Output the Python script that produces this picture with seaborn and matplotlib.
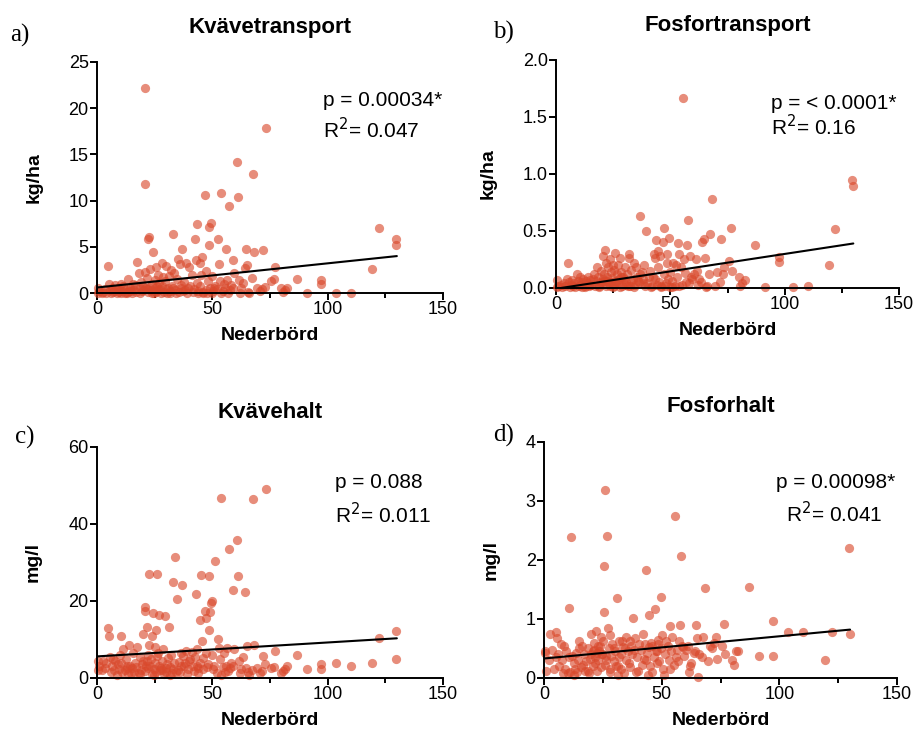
import pandas as pd
import seaborn as sns
import matplotlib.pyplot as plt

# Nederbörd (gemensam x för alla fyra paneler)
nederbord = [
    129.6, 129.8, 122.2, 119.2, 110.0, 103.8, 97.3, 97.3, 91.2, 86.9,
    82.5, 81.5, 80.5, 79.8, 77.0, 76.6, 75.5, 73.3, 73.0, 72.0,
    71.5, 70.5, 69.5, 68.2, 67.5, 67.0, 66.0, 65.6, 65.0, 64.7,
    64.0, 63.5, 62.5, 61.5, 61.0, 60.5, 59.5, 58.8, 58.0, 57.8,
    57.2, 56.5, 56.0, 55.6, 55.0, 54.5, 53.9, 53.3, 53.0, 52.5,
    52.0, 51.2, 50.5, 50.0, 49.7, 49.5, 49.0, 48.6, 48.4, 48.0,
    47.4, 47.2, 46.7, 46.0, 45.5, 45.1, 44.7, 44.5, 43.9, 43.5,
    43.3, 42.8, 42.6, 42.0, 41.0, 40.0, 39.3, 38.5, 37.9, 37.5,
    36.8, 36.6, 36.0, 35.5, 35.0, 34.7, 34.0, 33.5, 32.8, 32.5,
    32.0, 31.7, 31.2, 30.8, 30.0, 29.5, 29.0, 28.5, 28.0, 27.5,
    27.0, 26.9, 26.5, 26.0, 25.7, 25.5, 25.3, 25.0, 24.5, 24.2,
    24.0, 23.5, 23.0, 22.7, 22.5, 22.3, 22.0, 21.7, 21.5, 21.0,
    20.7, 20.7, 20.0, 19.5, 19.0, 18.5, 18.0, 17.3, 17.0, 16.5,
    16.0, 15.5, 15.0, 14.5, 14.0, 13.5, 13.0, 12.5, 12.0, 11.3,
    11.0, 10.6, 10.4, 10.0, 9.5, 9.0, 8.5, 8.0, 7.5, 7.0,
    6.5, 6.0, 5.5, 5.1, 4.9, 4.0, 3.5, 2.4, 2.0, 1.0,
    0.5, 0.3, 45.8, 44.0, 41.5, 40.5, 39.0, 38.0, 34.3, 33.0,
    30.5, 29.8, 27.8, 26.2, 23.8, 19.8, 18.8, 14.8, 12.8, 50.8,
    53.6, 57.0, 59.0, 62.0, 47.8, 36.3, 31.5, 28.2, 24.8, 21.2,
]

kvavetransport = [
    5.8, 5.2, 7.0, 2.6, 0.05, 0.05, 1.4, 1.0, 0.05, 1.5,
    0.6, 0.3, 0.1, 0.5, 2.8, 1.5, 1.3, 17.9, 0.7, 4.7,
    0.4, 0.2, 0.6, 4.4, 12.9, 1.6, 0.05, 0.1, 3.0, 4.8,
    2.7, 1.1, 0.5, 1.4, 10.4, 14.2, 2.2, 3.6, 0.9, 0.3,
    9.4, 1.4, 4.8, 0.6, 1.0, 0.2, 10.8, 1.3, 3.1, 5.8,
    0.4, 0.8, 0.2, 1.8, 0.05, 7.6, 0.6, 5.2, 7.1, 1.3,
    0.3, 2.4, 10.6, 0.1, 3.9, 2.0, 0.8, 3.3, 0.2, 7.5,
    1.1, 3.6, 5.8, 0.4, 1.9, 2.8, 0.5, 3.2, 1.2, 0.2,
    4.8, 0.9, 3.1, 0.1, 3.7, 1.5, 0.3, 2.2, 6.4, 0.8,
    2.5, 0.2, 1.8, 0.6, 2.9, 1.3, 0.1, 1.7, 3.3, 0.4,
    1.1, 0.3, 2.0, 0.8, 0.1, 2.8, 0.5, 1.4, 0.2, 4.4,
    1.0, 0.3, 2.6, 0.7, 6.1, 5.9, 0.1, 1.6, 0.4, 2.3,
    22.2, 11.8, 0.8, 0.2, 1.2, 0.5, 2.2, 3.4, 0.1, 0.9,
    0.3, 1.0, 0.05, 0.6, 0.2, 1.5, 0.1, 0.4, 0.05, 0.8,
    0.2, 0.05, 1.0, 0.3, 0.1, 0.6, 0.05, 0.9, 0.2, 0.1,
    0.5, 0.05, 0.3, 1.0, 2.9, 0.05, 0.4, 0.1, 0.05, 0.2,
    0.5, 0.05, 0.05, 0.05, 0.1, 0.8, 0.05, 0.3, 0.05, 0.5,
    0.05, 0.4, 0.05, 0.3, 0.05, 0.3, 0.05, 0.2, 0.05, 0.5,
    0.05, 0.05, 0.6, 0.05, 0.05, 0.6, 0.05, 0.8, 0.05, 0.5,
]

fosfortransport = [
    0.95, 0.89, 0.52, 0.20, 0.02, 0.01, 0.27, 0.23, 0.01, 0.38,
    0.07, 0.04, 0.02, 0.10, 0.15, 0.53, 0.24, 0.18, 0.12, 0.43,
    0.05, 0.14, 0.02, 0.78, 0.47, 0.12, 0.02, 0.01, 0.26, 0.43,
    0.40, 0.05, 0.08, 0.15, 0.25, 0.12, 0.08, 0.28, 0.04, 0.60,
    0.38, 0.13, 0.25, 1.67, 0.03, 0.18, 0.30, 0.39, 0.10, 0.20,
    0.02, 0.22, 0.06, 0.14, 0.01, 0.44, 0.08, 0.30, 0.22, 0.04,
    0.53, 0.12, 0.40, 0.02, 0.28, 0.05, 0.32, 0.18, 0.42, 0.26,
    0.08, 0.30, 0.10, 0.02, 0.15, 0.04, 0.50, 0.20, 0.08, 0.14,
    0.12, 0.63, 0.06, 0.10, 0.18, 0.03, 0.22, 0.08, 0.16, 0.02,
    0.26, 0.30, 0.12, 0.05, 0.18, 0.10, 0.02, 0.14, 0.26, 0.08,
    0.04, 0.20, 0.12, 0.06, 0.31, 0.16, 0.02, 0.20, 0.09, 0.05,
    0.14, 0.25, 0.04, 0.18, 0.10, 0.06, 0.22, 0.02, 0.33, 0.12,
    0.08, 0.28, 0.04, 0.15, 0.02, 0.10, 0.18, 0.06, 0.02, 0.12,
    0.08, 0.03, 0.07, 0.02, 0.10, 0.04, 0.06, 0.02, 0.08, 0.01,
    0.05, 0.03, 0.10, 0.02, 0.06, 0.12, 0.01, 0.04, 0.02, 0.07,
    0.03, 0.01, 0.05, 0.22, 0.08, 0.02, 0.04, 0.01, 0.03, 0.02,
    0.07, 0.01, 0.01, 0.03, 0.01, 0.10, 0.02, 0.04, 0.01, 0.06,
    0.03, 0.08, 0.01, 0.05, 0.02, 0.05, 0.01, 0.03, 0.01, 0.01,
    0.02, 0.05, 0.10, 0.03, 0.02, 0.05, 0.02, 0.10, 0.01, 0.06,
]

kvavehalt = [
    12.3, 4.9, 10.5, 3.9, 3.0, 3.9, 3.7, 2.4, 2.4, 6.0,
    3.2, 2.4, 1.7, 1.3, 7.1, 2.8, 2.6, 49.0, 3.5, 5.8,
    1.9, 1.4, 2.5, 8.6, 46.4, 2.0, 0.8, 1.5, 8.3, 2.5,
    22.2, 5.5, 2.2, 4.5, 26.4, 35.8, 7.5, 22.8, 4.0, 2.5,
    33.4, 7.8, 3.0, 1.5, 6.5, 2.8, 46.6, 4.8, 7.8, 10.0,
    1.2, 30.3, 2.2, 6.0, 19.9, 19.4, 17.0, 26.6, 12.5, 3.5,
    15.5, 6.5, 17.5, 5.2, 9.5, 26.8, 4.0, 15.0, 2.5, 7.5,
    3.0, 21.7, 5.5, 1.8, 6.8, 4.5, 2.2, 7.0, 3.2, 5.8,
    24.1, 6.5, 1.5, 4.2, 2.0, 20.5, 31.5, 3.8, 24.8, 1.2,
    6.0, 2.8, 13.2, 5.2, 2.5, 16.0, 1.0, 7.5, 4.5, 2.0,
    16.4, 3.2, 6.5, 26.9, 1.5, 12.5, 4.0, 8.0, 2.2, 16.8,
    11.0, 5.0, 3.0, 27.0, 8.5, 2.5, 6.0, 13.2, 4.5, 1.8,
    18.4, 17.5, 11.5, 3.5, 2.0, 5.5, 1.2, 8.0, 2.8, 4.0,
    1.5, 6.5, 2.5, 3.2, 8.5, 1.0, 3.0, 5.0, 2.0, 7.5,
    1.5, 4.0, 10.8, 6.0, 2.2, 3.5, 0.8, 4.5, 2.0, 5.0,
    3.0, 1.5, 5.5, 10.8, 13.0, 4.0, 2.5, 4.5, 2.0, 3.0,
    4.5, 2.0, 2.2, 1.2, 3.0, 5.0, 1.0, 4.0, 1.5, 2.2,
    3.5, 1.5, 2.6, 5.8, 1.0, 4.5, 1.0, 1.2, 2.5, 3.0,
    0.8, 1.8, 3.0, 1.2, 2.8, 3.0, 0.8, 2.0, 0.8, 3.0,
]

fosforhalt = [
    2.20, 0.75, 0.78, 0.30, 0.78, 0.78, 0.97, 0.38, 0.38, 1.55,
    0.46, 0.45, 0.22, 0.30, 0.40, 0.92, 0.54, 0.33, 0.69, 0.60,
    0.50, 0.55, 0.28, 1.52, 0.70, 0.35, 0.40, 0.02, 0.68, 0.90,
    0.45, 0.42, 0.25, 0.10, 0.55, 0.48, 0.38, 0.55, 2.06, 0.90,
    0.62, 0.48, 0.35, 2.74, 0.22, 0.70, 0.45, 0.88, 0.30, 0.55,
    0.62, 0.40, 0.15, 0.72, 0.50, 1.37, 0.28, 0.58, 0.65, 0.25,
    0.45, 1.17, 0.35, 0.10, 0.60, 0.20, 1.06, 0.52, 0.42, 0.30,
    1.83, 0.58, 0.33, 0.75, 0.48, 0.12, 0.35, 0.68, 1.01, 0.40,
    0.55, 0.18, 0.25, 0.45, 0.70, 0.30, 0.08, 0.52, 0.40, 0.15,
    0.62, 0.35, 0.20, 1.36, 0.45, 0.28, 0.58, 0.38, 0.10, 0.50,
    0.84, 2.41, 0.30, 0.22, 3.19, 1.89, 1.12, 0.62, 0.40, 0.70,
    0.18, 0.45, 0.55, 0.30, 0.42, 0.12, 0.80, 0.35, 0.25, 0.60,
    0.45, 0.20, 0.75, 0.32, 0.08, 0.50, 0.28, 0.12, 0.40, 0.22,
    0.55, 0.18, 0.62, 0.30, 0.10, 0.42, 0.16, 0.05, 0.38, 2.39,
    0.10, 1.19, 0.35, 0.08, 0.45, 0.15, 0.55, 0.08, 0.30, 0.58,
    0.20, 0.40, 0.68, 0.35, 0.78, 0.15, 0.48, 0.75, 0.30, 0.12,
    0.42, 0.45, 0.55, 0.05, 0.22, 0.58, 0.10, 0.48, 0.50, 0.62,
    0.20, 0.50, 0.15, 0.38, 0.55, 0.40, 0.12, 0.50, 0.25, 0.05,
    0.15, 0.28, 0.52, 0.20, 0.45, 0.62, 0.05, 0.72, 0.40, 0.48,
]

# regressionslinjer (y vid x = 0 och x = 130)
linje_x = [0, 130]
linje_a = [0.6, 4.0]
linje_b = [-0.007, 0.39]
linje_c = [5.6, 10.3]
linje_d = [0.33, 0.82]

sns.set_style("ticks")
plt.rcParams["font.family"] = ["Liberation Sans", "DejaVu Sans"]
plt.rcParams["text.color"] = "black"
plt.rcParams["axes.labelcolor"] = "black"
plt.rcParams["xtick.color"] = "black"
plt.rcParams["ytick.color"] = "black"
plt.rcParams["axes.edgecolor"] = "black"

df = pd.DataFrame({
    "Nederbörd": nederbord,
    "a": kvavetransport,
    "b": fosfortransport,
    "c": kvavehalt,
    "d": fosforhalt,
})

fig = plt.figure(figsize=(9.16, 7.29), dpi=100)

paneler = [
    # kolumn, titel, enhet, yticks, ylabels, linje, p-text, r2-text, axes-rect, textpos
    ("a", "Kvävetransport", "kg/ha", [0, 5, 10, 15, 20, 25], None, linje_a,
     "p = 0.00034*", "R$^2$= 0.047", [0.1059, 0.598, 0.3777, 0.317], (0.653, 0.835, 0.653, 0.706)),
    ("b", "Fosfortransport", "kg/ha", [0, 0.5, 1.0, 1.5, 2.0], ["0.0", "0.5", "1.0", "1.5", "2.0"], linje_b,
     "p = < 0.0001*", "R$^2$= 0.16", [0.607, 0.605, 0.3745, 0.3128], (0.627, 0.81, 0.627, 0.706)),
    ("c", "Kvävehalt", "mg/l", [0, 20, 40, 60], None, linje_c,
     "p = 0.088", "R$^2$= 0.011", [0.1059, 0.070, 0.3777, 0.317], (0.688, 0.844, 0.688, 0.705)),
    ("d", "Fosforhalt", "mg/l", [0, 1, 2, 3, 4], None, linje_d,
     "p = 0.00098*", "R$^2$= 0.041", [0.594, 0.070, 0.3854, 0.3237], (0.657, 0.83, 0.686, 0.695)),
]

for kol, titel, enhet, yt, ylab, linje, ptext, rtext, rect, pos in paneler:
    ax = fig.add_axes(rect)
    sns.scatterplot(data=df, x="Nederbörd", y=kol, ax=ax, color="#D9482B", alpha=0.62,
                    s=44, linewidth=0, clip_on=False, zorder=2)
    sns.lineplot(x=linje_x, y=linje, ax=ax, color="black", linewidth=1.5, zorder=3)
    ax.set_xlim(0, 150)
    ax.set_ylim(0, yt[-1])
    ax.set_xticks([0, 50, 100, 150])
    ax.set_xticks([25, 75, 125], minor=True)
    ax.set_yticks(yt)
    if ylab:
        ax.set_yticklabels(ylab)
    ax.tick_params(axis="both", which="major", labelsize=13, width=1.4, length=5, pad=1)
    ax.tick_params(axis="x", which="minor", width=1.4, length=3.5)
    for sp in ["left", "bottom"]:
        ax.spines[sp].set_linewidth(1.4)
    sns.despine(ax=ax)
    ax.set_xlabel("Nederbörd", fontsize=14, fontweight="bold", labelpad=6)
    ax.set_ylabel(enhet, fontsize=14, fontweight="bold", labelpad=19)
    ax.text(0.5, 1.15, titel, transform=ax.transAxes, ha="center", va="center",
            fontsize=16, fontweight="bold")
    ax.text(pos[0], pos[1], ptext, transform=ax.transAxes, ha="left", va="center", fontsize=15)
    ax.text(pos[2], pos[3], rtext, transform=ax.transAxes, ha="left", va="center", fontsize=15)

fig.text(0.011, 0.952, "a)", fontsize=18, family="Liberation Serif", va="center")
fig.text(0.538, 0.955, "b)", fontsize=18, family="Liberation Serif", va="center")
fig.text(0.016, 0.40, "c)", fontsize=18, family="Liberation Serif", va="center")
fig.text(0.538, 0.403, "d)", fontsize=18, family="Liberation Serif", va="center")

fig.savefig("out.png", dpi=100)
